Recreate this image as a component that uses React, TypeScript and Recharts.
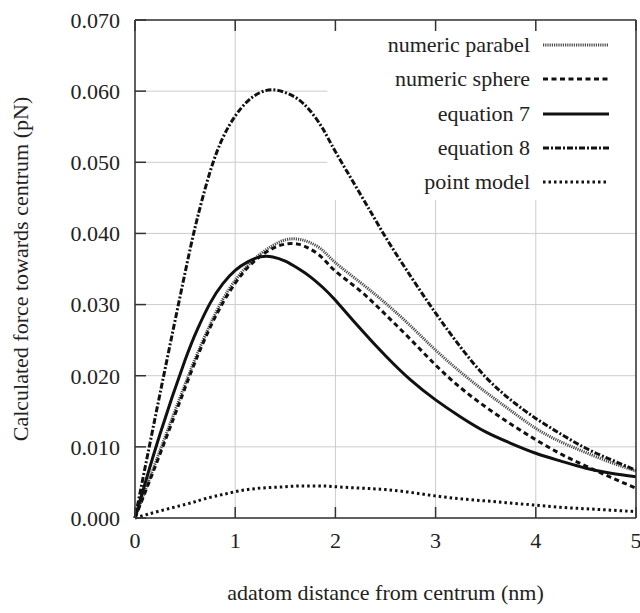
import React from 'react';
import {
  LineChart,
  Line,
  XAxis,
  YAxis,
  CartesianGrid,
  Legend,
  ReferenceArea,
} from 'recharts';

// ---- data ----
const xValues = [0, 0.25, 0.5, 0.625, 0.75, 0.875, 1, 1.125, 1.25, 1.375, 1.5, 1.625, 1.75, 1.875, 2, 2.25, 2.5, 2.75, 3, 3.25, 3.5, 3.75, 4, 4.25, 4.5, 4.75, 5];

const numericParabel = [0, 0.0095, 0.0188, 0.0232, 0.0272, 0.0307, 0.0334, 0.0355, 0.0371, 0.0383, 0.0391, 0.0392, 0.0387, 0.0376, 0.0359, 0.0331, 0.0302, 0.027, 0.0236, 0.0205, 0.0177, 0.0151, 0.0126, 0.0107, 0.0092, 0.0078, 0.0066];
const numericSphere = [0, 0.009, 0.0183, 0.0228, 0.0268, 0.0302, 0.033, 0.0352, 0.0368, 0.0379, 0.0385, 0.0385, 0.0378, 0.0365, 0.0347, 0.0319, 0.0286, 0.0251, 0.0215, 0.0183, 0.0156, 0.0132, 0.011, 0.009, 0.0073, 0.0057, 0.0042];
const equation7 = [0, 0.0118, 0.0222, 0.0266, 0.0302, 0.0329, 0.0348, 0.036, 0.0367, 0.0367, 0.0361, 0.0351, 0.0339, 0.0324, 0.0306, 0.0266, 0.0228, 0.0194, 0.0166, 0.0142, 0.0121, 0.0105, 0.0091, 0.008, 0.007, 0.0063, 0.0058];
const equation8 = [0, 0.0175, 0.0345, 0.0423, 0.0487, 0.0534, 0.0565, 0.0586, 0.0598, 0.0602, 0.0598, 0.0589, 0.0572, 0.0547, 0.0515, 0.0455, 0.0395, 0.034, 0.0288, 0.024, 0.0198, 0.0166, 0.014, 0.0118, 0.0098, 0.0082, 0.0067];
const pointModel = [0, 0.001, 0.0019, 0.0024, 0.0029, 0.0033, 0.0037, 0.004, 0.0042, 0.0043, 0.0044, 0.0045, 0.0045, 0.0045, 0.0044, 0.0042, 0.004, 0.0036, 0.0031, 0.0027, 0.0024, 0.0021, 0.0018, 0.0015, 0.0013, 0.0011, 0.0009];

const xTicks = [0, 1, 2, 3, 4, 5];
const yTicks = [0, 0.01, 0.02, 0.03, 0.04, 0.05, 0.06, 0.07];

const xLabel = 'adatom distance from centrum (nm)';
const yLabel = 'Calculated force towards centrum (pN)';

const data = xValues.map((x, i) => ({
  x,
  parabel: numericParabel[i],
  sphere: numericSphere[i],
  eq7: equation7[i],
  eq8: equation8[i],
  point: pointModel[i],
}));

const series = [
  { key: 'parabel', name: 'numeric parabel', color: '#4a4a4a', dash: '1.2 1', width: 3 },
  { key: 'sphere', name: 'numeric sphere', color: '#111', dash: '5 3.5', width: 3 },
  { key: 'eq7', name: 'equation 7', color: '#111', dash: undefined, width: 3 },
  { key: 'eq8', name: 'equation 8', color: '#111', dash: '6 2 2 2', width: 3 },
  { key: 'point', name: 'point model', color: '#111', dash: '2.5 3', width: 3 },
];

const FONT = "'Liberation Serif', 'Times New Roman', Times, serif";
const AXIS_COLOR = '#333';
const TEXT_COLOR = '#222';

const tickStyle = { fontFamily: FONT, fontSize: 22, fill: TEXT_COLOR, style: { fontFamily: FONT } };

const LegendContent = () => (
  <div style={{ fontFamily: FONT, fontSize: 22, color: TEXT_COLOR }}>
    {series.map((s) => (
      <div key={s.key} style={{ display: 'flex', alignItems: 'center', height: 34.3 }}>
        <div style={{ width: 200, textAlign: 'right', lineHeight: '22px', whiteSpace: 'nowrap', fontFamily: FONT }}>{s.name}</div>
        <svg width={79} height={10} style={{ display: 'block' }}>
          <line
            x1={13}
            x2={79}
            y1={5}
            y2={5}
            stroke={s.color}
            strokeWidth={s.width}
            strokeDasharray={s.dash}
          />
        </svg>
      </div>
    ))}
  </div>
);

const XLabelContent = (props: any) => {
  const vb = props.viewBox || {};
  return (
    <text
      x={vb.x + vb.width / 2}
      y={vb.y + 82}
      textAnchor="middle"
      fontSize={22}
      fill={TEXT_COLOR}
      style={{ fontFamily: FONT }}
    >
      {xLabel}
    </text>
  );
};

const YLabelContent = (props: any) => {
  const vb = props.viewBox || {};
  const cx = 28;
  const cy = vb.y + vb.height / 2;
  return (
    <text
      x={cx}
      y={cy}
      transform={`rotate(-90 ${cx} ${cy})`}
      textAnchor="middle"
      fontSize={22}
      fill={TEXT_COLOR}
      style={{ fontFamily: FONT }}
    >
      {yLabel}
    </text>
  );
};

export default function App() {
  return (
    <div style={{ position: 'absolute', left: 0, top: 0, width: 640, height: 613, background: '#fff', fontFamily: FONT }}>
      <LineChart
        width={640}
        height={613}
        data={data}
        margin={{ top: 19, right: 0, bottom: 0, left: 0 }}
        style={{ fontFamily: FONT }}
      >
        <CartesianGrid stroke="#cccccc" strokeWidth={1} xAxisId="bottom" yAxisId="left" />
        <ReferenceArea
          xAxisId="bottom"
          yAxisId="left"
          x1={1.92}
          x2={5}
          y1={0.0447}
          y2={0.07}
          fill="#fff"
          fillOpacity={1}
          stroke="none"
          ifOverflow="visible"
        />
        <XAxis
          xAxisId="bottom"
          dataKey="x"
          type="number"
          domain={[0, 5]}
          ticks={xTicks}
          orientation="bottom"
          height={95}
          tickSize={-11}
          tickMargin={25}
          stroke={AXIS_COLOR}
          axisLine={{ stroke: AXIS_COLOR, strokeWidth: 1.5 }}
          tickLine={{ stroke: AXIS_COLOR, strokeWidth: 1.5 }}
          tick={tickStyle}
          interval={0}
          label={{ content: XLabelContent }}
        />
        <XAxis
          xAxisId="top"
          dataKey="x"
          type="number"
          domain={[0, 5]}
          ticks={xTicks}
          orientation="top"
          height={1}
          tickSize={-11}
          tickFormatter={() => ''}
          stroke={AXIS_COLOR}
          axisLine={{ stroke: AXIS_COLOR, strokeWidth: 1.5 }}
          tickLine={{ stroke: AXIS_COLOR, strokeWidth: 1.5 }}
          interval={0}
        />
        <YAxis
          yAxisId="left"
          type="number"
          domain={[0, 0.07]}
          ticks={yTicks}
          orientation="left"
          width={135}
          tickSize={-11}
          tickMargin={26}
          tickFormatter={(v: number) => v.toFixed(3)}
          stroke={AXIS_COLOR}
          axisLine={{ stroke: AXIS_COLOR, strokeWidth: 1.5 }}
          tickLine={{ stroke: AXIS_COLOR, strokeWidth: 1.5 }}
          tick={tickStyle}
          interval={0}
          label={{ content: YLabelContent }}
        />
        <YAxis
          yAxisId="right"
          type="number"
          domain={[0, 0.07]}
          ticks={yTicks}
          orientation="right"
          width={4}
          tickSize={-11}
          tickFormatter={() => ''}
          stroke={AXIS_COLOR}
          axisLine={{ stroke: AXIS_COLOR, strokeWidth: 1.5 }}
          tickLine={{ stroke: AXIS_COLOR, strokeWidth: 1.5 }}
          interval={0}
        />
        {series.map((s) => (
          <Line
            key={s.key}
            xAxisId="bottom"
            yAxisId="left"
            type="natural"
            dataKey={s.key}
            name={s.name}
            stroke={s.color}
            strokeWidth={s.width}
            strokeDasharray={s.dash}
            dot={false}
            activeDot={false}
            isAnimationActive={false}
          />
        ))}
        <Legend
          layout="horizontal"
          verticalAlign="middle"
          align="center"
          content={LegendContent}
          wrapperStyle={{ position: 'absolute', top: 28, left: 330, width: 290, height: 'auto' }}
        />
      </LineChart>
    </div>
  );
}
